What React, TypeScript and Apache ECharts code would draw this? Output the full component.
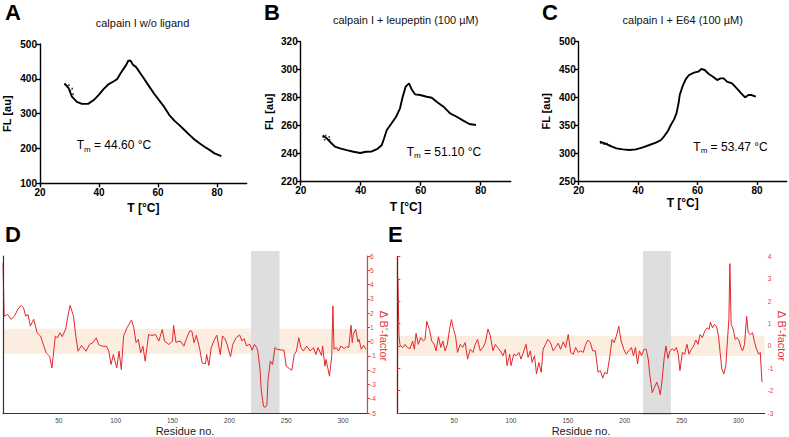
import React, { useEffect, useRef } from "react";
import * as echarts from "echarts";

const FONT = "'Liberation Sans', Arial, Helvetica, sans-serif";
const RED = "#e3262b";
const AXIS_RED = "#e4393d";

// ---- titles / labels ----
const panelLetters = ["A", "B", "C", "D", "E"];
const panelTitles = ["calpain I w/o ligand", "calpain I + leupeptin (100 µM)", "calpain I + E64 (100 µM)"];
const tmValues = ["44.60", "51.10", "53.47"];
const bFactorName = "Δ B'-factor";
const tempTicks = [20, 40, 60, 80];
const residueTicks = [50, 100, 150, 200, 250, 300];

// ---- thermal shift curves (T [°C], FL [au]) ----
const curveA: [number, number][] = [
  [28.3, 387], [29.7, 373], [30.8, 349], [32.5, 334], [34.2, 328], [36.3, 328], [38.2, 339], [39.9, 354],
  [41.6, 371], [43.3, 385], [45, 393], [46.1, 399], [47.3, 416], [48.4, 430], [49.2, 440], [49.9, 452],
  [50.7, 452], [51.5, 440], [52.4, 435], [53.5, 422], [55.2, 401], [56.9, 379], [58.6, 358], [60.3, 339],
  [62, 320], [63.8, 296], [65.5, 280], [67.2, 267], [68.9, 253], [70.6, 239], [72.3, 226], [74, 215],
  [75.7, 205], [77.4, 196], [79.1, 186], [81.4, 178],
];
const curveB: [number, number][] = [
  [27.3, 253], [28.7, 251], [30, 248], [31.4, 245], [33.1, 243.8], [35.3, 242.6], [37.6, 241.4], [39.8, 240.5],
  [41.8, 241.4], [43.7, 241.6], [45.6, 243.5], [47, 246], [47.8, 251], [48.7, 256.9], [50.3, 261.7], [51.8, 266.4],
  [53.1, 272.4], [54, 280.7], [55, 287.9], [56.1, 290.2], [57, 285.9], [58.1, 282.4], [59.8, 281.9], [62, 280.7],
  [63.7, 280], [65.3, 277.1], [67.6, 273.6], [69.8, 268.8], [72, 266.4], [74.2, 263.6], [76.2, 261.2], [78.4, 260.5],
];
const curveC: [number, number][] = [
  [27.1, 320.6], [28.8, 317.6], [30.4, 313.4], [32.7, 308.6], [34.9, 306.8], [37.1, 305.6], [39.3, 306.8],
  [41.6, 310.4], [43.8, 314.6], [46, 318.8], [47.7, 323.6], [48.8, 330.7], [49.9, 338.5], [51, 350.5],
  [52.1, 360.6], [52.9, 371.4], [53.6, 389.4], [54, 404.3], [54.9, 419.3], [56, 432.4], [57.1, 440.2],
  [58.8, 444.4], [60.2, 446.2], [61.3, 451], [62.4, 449.2], [63.8, 442], [65.2, 437.2], [66.6, 431.2],
  [67.7, 434.2], [68.8, 434.2], [69.9, 428.2], [71.6, 425.2], [73.2, 416.3], [74.7, 407.3], [76, 400.1],
  [77.1, 404.3], [78.2, 404.3], [79.6, 401.3],
];
// scattered raw readings at the start of each melt
const scatterA: [number, number][] = [[28.5, 383], [29.2, 378], [29.8, 382], [30.3, 366], [30.9, 372], [31.2, 356]];
const scatterB: [number, number][] = [[27.5, 252], [28, 250], [28.3, 253], [29.5, 252], [29.6, 250]];
const scatterC: [number, number][] = [[27.5, 318], [28.5, 316], [29.5, 317], [30.5, 314]];

// ---- Δ B'-factor profiles (residue, value) ----
const profileD: [number, number][] = [
  [1, 5.5], [2, 1.78], [5, 1.91], [8, 1.56], [11, 1.78], [14, 2.26], [17, 2.54], [19, 2.38], [21, 1.78], [23, 1.91],
  [25, 1.09], [28, 1.56], [31, 0.62], [34, 0.39], [37, -0.32], [39, -0.79], [42, -1.02], [44, -1.84], [47, 0.39],
  [49, 0.27], [51, 0.62], [53, 0.35], [56, 0.85], [58, 1.78], [60, 2.54], [63, 1.78], [65, 0.39], [67, -0.67],
  [70, -0.27], [74, -0.67], [77, -0.2], [80, -0.08], [83, 0.27], [85, -0.2], [88, -0.32], [92, -0.32], [94, -0.67],
  [96, -1.6], [98, -0.9], [101, -1.84], [103, -0.67], [105, -1.96], [107, 0.39], [110, 0.97], [114, 1.51],
  [116, 0.97], [118, -0.08], [120, 0.15], [122, -0.79], [124, -0.32], [126, -1.37], [129, 0.5], [132, 0.43],
  [135, 0.5], [138, 0.04], [141, 0.85], [143, 0.04], [147, -0.2], [150, 0.04], [151, 1.14], [153, -0.04],
  [157, 0.04], [160, -0.32], [162, 0.15], [165, 0.74], [167, 0.74], [169, -0.07], [171, 0.45], [174, -0.54],
  [176, -1.48], [179, -1.55], [180, -0.9], [182, -1.67], [184, -0.42], [187, 0.16], [189, 0.45], [192, -0.9],
  [194, 0.4], [196, 0.21], [198, -0.19], [201, -1.06], [203, -0.19], [206, 0.28], [209, 0.47], [211, 0.05],
  [213, 0.21], [215, -0.3], [218, -0.19], [220, -0.6], [222, -0.19], [224, -0.42], [225, -0.66], [227, -1.95],
  [228, -3.36], [230, -4.54], [231.5, -4.6], [233, -4.42], [234, -2.66], [236, -1.36], [238, -1.6], [240, -0.42],
  [242, -0.54], [246, -0.59], [248, -0.6], [250, -1.72], [253, -1.9], [255, -2.0], [257, -0.9], [259, -0.66],
  [261, 0.28], [263, -0.42], [265, -0.66], [268, -0.31], [271, -0.66], [274, -0.42], [276, -0.9], [278, -0.42],
  [281, -0.97], [282, -0.31], [284, -1.72], [285, -1.25], [288, -2.42], [289, -1.72], [290, -1.01], [291, 2.5],
  [292, -0.54], [294, -0.42], [296, -0.66], [298, -0.31], [301, -0.49], [303, -0.35], [305, -0.42], [307, 1.15],
  [308, -0.07], [309, 0.52], [311, 0.87], [313, -0.02], [314, 0.16], [316, -0.54], [318, -0.26], [320, -0.54],
];
const profileE: [number, number][] = [
  [0.5, 3.06], [1.5, 0.44], [2.4, 0.03], [4.7, -0.07], [6.8, 0.07], [8.8, -0.07], [11.2, -0.12], [13.5, 0.22],
  [15, -0.15], [16.5, 0.56], [18.5, 0.07], [20.6, 0.37], [22.9, 0.22], [24.4, 0.29], [25.9, 1.1], [28.2, 0.74],
  [30.3, 0.22], [32.4, 0.07], [34.1, -0.22], [36.2, 0.41], [38.2, -0.07], [40, 0.22], [42, -0.22], [44, 0.07],
  [45.9, 0.74], [47.6, 1.18], [49.4, 0.74], [51.2, 0.44], [52.9, -0.29], [55.3, 0.07], [57.4, -0.07], [59.7, 0.15],
  [61.8, -0.59], [64.1, -0.15], [66.5, -0.29], [68.5, 0.07], [70.6, 0.29], [72.9, -0.22], [75.3, -0.07],
  [77.4, 0.15], [79.7, 0.76], [81.8, 0.44], [84.1, -0.22], [86.2, 0.07], [88.2, -0.07], [90.6, -0.22],
  [92.9, -0.44], [95, -0.15], [96.5, -0.88], [98.8, -0.37], [100, -0.88], [102.4, -0.37], [104.7, -0.44],
  [106.8, -0.29], [108.8, -0.59], [111.2, -0.22], [113.2, 0.07], [115, -0.51], [117, -0.22], [118.5, -0.74],
  [120.6, -0.44], [122.4, -1.25], [124.4, -0.74], [126.5, -1.18], [128.2, -0.15], [130.3, 0.07], [132.4, 0.29],
  [134.7, 0.15], [137, -0.22], [139.1, -0.07], [141.5, 0.12], [143.5, -0.15], [145.9, 0.18], [148, -0.07],
  [150.3, 0.51], [152.4, -0.29], [154.7, -0.37], [156.8, -0.07], [159.1, -0.29], [161.2, -0.22], [163.5, -0.29],
  [165.6, 0.07], [167.6, 0.26], [169.7, 0.15], [171.8, -0.22], [174.1, -0.22], [176.5, -1.18], [178.5, -1.1],
  [180.6, -1.44], [182.4, -1.18], [184.4, -1.25], [186.5, -0.59], [188.8, 0.29], [190.6, 0.15], [192.6, 0.44],
  [194.7, 0.88], [196.8, 0.22], [199.1, -0.15], [201.2, -0.37], [203.5, -0.22], [205.9, -0.07], [207.6, -0.44],
  [209.4, -0.07], [211.2, -0.81], [212.9, -0.22], [214.7, -0.44], [216.8, -0.15], [218.8, -0.15], [220.6, -0.59],
  [222.1, -1.32], [224.1, -2.09], [226.2, -1.84], [228.2, -1.62], [230, -1.91], [231.2, -2.18], [232.9, -1.47],
  [234.7, -0.51], [236.2, 0], [237.9, -0.56], [239.7, -0.22], [241.8, -0.12], [243.5, -0.22], [245.3, -0.07],
  [247, -0.37], [248.5, -1.1], [250.6, -0.29], [252.6, -0.37], [254.7, 0.07], [256.5, -0.37], [258.5, -0.15],
  [260.6, 0], [262.4, 0.26], [264.4, 0.07], [266.2, 0.51], [268.2, 0.37], [270.3, 0.66], [272.4, 0.81],
  [274.1, 0.74], [275.3, 1.06], [277.1, 0.81], [278.8, 0.96], [280.6, 0.88], [282.4, 0.44], [283.8, -0.29],
  [285.3, -1.03], [287.1, -1.25], [288.8, -0.88], [290.3, 0.29], [291.5, 1.18], [292.4, 3.68], [293.5, 0.96],
  [295.3, 0.74], [297.1, 0.29], [298.5, 0.37], [300.3, 0.26], [302.1, -0.07], [303.5, -0.22], [305.3, 0.07],
  [307.1, 1.32], [308.5, 0.59], [310.3, 0.51], [312.4, 0.59], [314.1, 0.15], [315.9, -0.15], [317.6, -0.37],
  [319.1, -0.29], [320.6, -1.62],
];

// ranges
const bandD = [-0.85, 0.9];
const bandE = [-0.45, 0.45];
const regionD = [219, 244];
const regionE = [216, 240.5];

function tempXAxis(gridIndex: number, gap: number) {
  return {
    gridIndex, type: "value", min: 20, max: 90, interval: 20,
    name: "T [°C]", nameLocation: "middle", nameGap: gap,
    nameTextStyle: { fontFamily: FONT, fontWeight: "bold", fontSize: 12, color: "#000" },
    axisLine: { show: true, lineStyle: { color: "#000", width: 1.4 } },
    axisTick: { show: true, length: 4, customValues: tempTicks, lineStyle: { color: "#000", width: 1.4 } },
    axisLabel: { customValues: tempTicks, fontFamily: FONT, fontWeight: "bold", fontSize: 10, color: "#000", margin: 4 },
    splitLine: { show: false },
  };
}
function flYAxis(gridIndex: number, min: number, max: number, interval: number, gap: number) {
  return {
    gridIndex, type: "value", min, max, interval,
    name: "FL [au]", nameLocation: "middle", nameGap: gap, nameRotate: 90,
    nameTextStyle: { fontFamily: FONT, fontWeight: "bold", fontSize: 11, color: "#000" },
    axisLine: { show: true, lineStyle: { color: "#000", width: 1.4 } },
    axisTick: { show: true, length: 4, lineStyle: { color: "#000", width: 1.4 } },
    axisLabel: { fontFamily: FONT, fontWeight: "bold", fontSize: 10, color: "#000", margin: 3 },
    splitLine: { show: false },
  };
}
function residueXAxis(gridIndex: number, min: number, max: number) {
  return {
    gridIndex, type: "value", min, max, z: 10,
    name: "Residue no.", nameLocation: "middle", nameGap: 12,
    nameTextStyle: { fontFamily: FONT, fontSize: 11, color: "#222" },
    axisLine: { show: true, onZero: false, lineStyle: { color: "#333", width: 1.2 } },
    axisTick: { show: false },
    axisLabel: { customValues: residueTicks, fontFamily: FONT, fontSize: 6.5, color: "#444", margin: 4 },
    splitLine: { show: false },
  };
}
function bRightAxis(gridIndex: number, min: number, max: number) {
  return {
    gridIndex, type: "value", position: "right", min, max, interval: 1, z: 10,
    axisLine: { show: true, lineStyle: { color: AXIS_RED, width: 1.2 } },
    axisTick: { show: true, length: 3, lineStyle: { color: AXIS_RED, width: 1 } },
    axisLabel: { fontFamily: FONT, fontSize: 6.5, color: AXIS_RED, margin: 3 },
    splitLine: { show: false },
  };
}
function leftLineAxis(gridIndex: number, min: number, max: number) {
  return {
    gridIndex, type: "value", position: "left", min, max, z: 10,
    axisLine: { show: true, lineStyle: { color: "#333", width: 1.2 } },
    axisTick: { show: false }, axisLabel: { show: false }, splitLine: { show: false },
  };
}
function hiddenAxis(gridIndex: number, min: number, max: number) {
  return { gridIndex, type: "value", min, max, show: false, splitLine: { show: false } };
}
function curveSeries(xi: number, data: [number, number][]) {
  return {
    type: "line", xAxisIndex: xi, yAxisIndex: xi, data, symbol: "none", z: 3,
    lineStyle: { color: "#000", width: 1.9 }, silent: true,
  };
}
function scatterSeries(xi: number, data: [number, number][]) {
  return {
    type: "scatter", xAxisIndex: xi, yAxisIndex: xi, data, symbol: "rect", symbolSize: 1.6, z: 3,
    itemStyle: { color: "#000" }, silent: true,
  };
}
function tmText(x: number, y: number, v: string) {
  return {
    type: "text", x, y,
    style: {
      text: `{t|T}{s|m}{t| = ${v} °C}`,
      verticalAlign: "middle",
      rich: {
        t: { fontFamily: FONT, fontSize: 12, color: "#000", lineHeight: 16 },
        s: { fontFamily: FONT, fontSize: 8, color: "#000", lineHeight: 8, verticalAlign: "bottom" },
      },
    },
  };
}
function letter(x: number, y: number, t: string) {
  return { type: "text", x, y, style: { text: t, fontFamily: FONT, fontWeight: "bold", fontSize: 22, fill: "#000", verticalAlign: "middle" } };
}
function titleText(x: number, y: number, t: string) {
  return { type: "text", x, y, style: { text: t, fontFamily: FONT, fontSize: 11, fill: "#111", align: "center", verticalAlign: "middle" } };
}
function sideName(x: number, y: number) {
  return {
    type: "text", x, y, rotation: -Math.PI / 2,
    style: { text: bFactorName, fontFamily: FONT, fontSize: 11, fill: AXIS_RED, align: "center", verticalAlign: "middle" },
  };
}

const option: any = {
  animation: false,
  backgroundColor: "#fff",
  grid: [
    { left: 38.3, top: 44, width: 208.4, height: 139.3 },
    { left: 300.7, top: 41.7, width: 210, height: 140 },
    { left: 578.7, top: 41.7, width: 208, height: 139.3 },
    { left: 3, top: 256, width: 364, height: 157.5 },
    { left: 3, top: 251, width: 364, height: 162.5 },
    { left: 397.3, top: 256.5, width: 367.4, height: 158.5 },
    { left: 397.3, top: 251, width: 367.4, height: 164 },
  ],
  xAxis: [
    tempXAxis(0, 19),
    tempXAxis(1, 19),
    tempXAxis(2, 16),
    residueXAxis(3, 1, 321),
    hiddenAxis(4, 1, 321),
    residueXAxis(5, 0, 323),
    hiddenAxis(6, 0, 323),
  ],
  yAxis: [
    flYAxis(0, 100, 500, 100, 28),
    flYAxis(1, 220, 320, 20, 26),
    flYAxis(2, 250, 500, 50, 27),
    bRightAxis(3, -5, 6),
    leftLineAxis(3, -5, 6),
    hiddenAxis(4, 0, 1),
    bRightAxis(5, -3, 4),
    leftLineAxis(5, -3, 4),
    hiddenAxis(6, 0, 1),
  ],
  series: [
    curveSeries(0, curveA),
    curveSeries(1, curveB),
    curveSeries(2, curveC),
    scatterSeries(0, scatterA),
    scatterSeries(1, scatterB),
    scatterSeries(2, scatterC),
    {
      type: "line", xAxisIndex: 3, yAxisIndex: 3, data: [], z: 1, silent: true,
      markArea: { silent: true, itemStyle: { color: "#fbeee0" }, data: [[{ yAxis: bandD[0] }, { yAxis: bandD[1] }]] },
    },
    {
      type: "line", xAxisIndex: 4, yAxisIndex: 5, data: [], z: 2, silent: true,
      markArea: { silent: true, itemStyle: { color: "#dedede" }, data: [[{ xAxis: regionD[0] }, { xAxis: regionD[1] }]] },
    },
    {
      type: "line", xAxisIndex: 3, yAxisIndex: 3, data: profileD, symbol: "none", z: 3, silent: true,
      lineStyle: { color: RED, width: 1 },
    },
    {
      type: "line", xAxisIndex: 5, yAxisIndex: 6, data: [], z: 1, silent: true,
      markArea: { silent: true, itemStyle: { color: "#fbeee0" }, data: [[{ yAxis: bandE[0] }, { yAxis: bandE[1] }]] },
    },
    {
      type: "line", xAxisIndex: 6, yAxisIndex: 8, data: [], z: 2, silent: true,
      markArea: { silent: true, itemStyle: { color: "#dedede" }, data: [[{ xAxis: regionE[0] }, { xAxis: regionE[1] }]] },
    },
    {
      type: "line", xAxisIndex: 5, yAxisIndex: 6, data: profileE, symbol: "none", z: 3, silent: true,
      lineStyle: { color: RED, width: 1 },
    },
  ],
  graphic: [
    letter(5, 12, panelLetters[0]),
    letter(264, 12, panelLetters[1]),
    letter(542, 12, panelLetters[2]),
    letter(5, 234, panelLetters[3]),
    letter(388, 234, panelLetters[4]),
    titleText(142.5, 23, panelTitles[0]),
    titleText(405.7, 20, panelTitles[1]),
    titleText(682.7, 20, panelTitles[2]),
    tmText(76.7, 145, tmValues[0]),
    tmText(406.7, 151.7, tmValues[1]),
    tmText(693.3, 146.7, tmValues[2]),
    sideName(384, 336),
    sideName(782, 336),
  ],
};

export default function App() {
  const ref = useRef<HTMLDivElement>(null);
  useEffect(() => {
    if (!ref.current) return;
    const chart = echarts.init(ref.current, null, { renderer: "svg" });
    chart.setOption(option);
    return () => chart.dispose();
  }, []);
  return (
    <div
      ref={ref}
      style={{ position: "absolute", left: 0, top: 0, width: 789, height: 437, background: "#fff" }}
    />
  );
}
